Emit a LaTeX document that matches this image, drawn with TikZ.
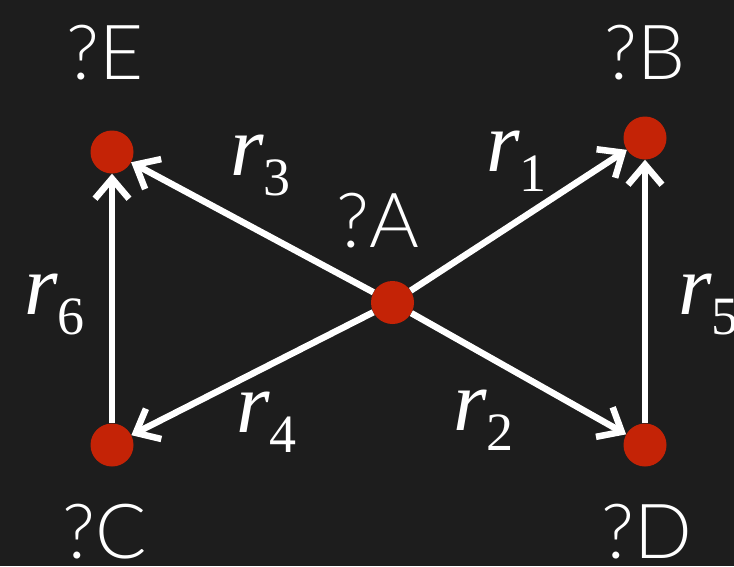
\documentclass[tikz,border=0pt]{standalone}
\usepackage{fontspec}
\setmainfont{Liberation Serif}
\newfontfamily\labfont{Lato Light}
\usetikzlibrary{arrows.meta}
\definecolor{bgc}{HTML}{1D1D1D}
\definecolor{dotred}{HTML}{C42306}
\newcommand{\rlab}[1]{\fontsize{86}{86}\selectfont\itshape r\upshape\raisebox{-20pt}{\fontsize{54}{54}\selectfont #1}}
\begin{document}
\begin{tikzpicture}[x=1pt,y=-1pt,
  dot/.style={circle,fill=dotred,minimum size=43pt,inner sep=0pt},
  arr/.style={draw=white,line width=6.5pt,-{Straight Barb[length=20pt,width=34pt]}},
  qlab/.style={text=white,anchor=base,inner sep=0pt,font=\labfont\fontsize{76}{76}\selectfont},
  rl/.style={text=white,anchor=base west,inner sep=0pt}]
\fill[bgc] (0,0) rectangle (734,566);
\useasboundingbox (0,0) rectangle (734,566);
\node[dot] (A) at (392.5,302.5) {};
\node[dot] (B) at (645,138) {};
\node[dot] (E) at (112,152) {};
\node[dot] (C) at (112,445) {};
\node[dot] (D) at (645,445) {};
\draw[arr] (A) -- (B);
\draw[arr] (A) -- (E);
\draw[arr] (A) -- (C);
\draw[arr] (A) -- (D);
\draw[arr] (D) -- (B);
\draw[arr] (C) -- (E);
\node[qlab] (lA) at (378,247) {?A};
\node[qlab] (lB) at (645,79) {?B};
\node[qlab] (lE) at (105,79) {?E};
\node[qlab] (lC) at (105,558) {?C};
\node[qlab] (lD) at (647,558) {?D};
\node[rl] (r3) at (230,175) {\rlab{3}};
\node[rl] (r1) at (486,171) {\rlab{1}};
\node[rl] (r6) at (24,314) {\rlab{6}};
\node[rl] (r5) at (678,314) {\rlab{5}};
\node[rl] (r4) at (236,432) {\rlab{4}};
\node[rl] (r2) at (453,430) {\rlab{2}};
\end{tikzpicture}
\end{document}
